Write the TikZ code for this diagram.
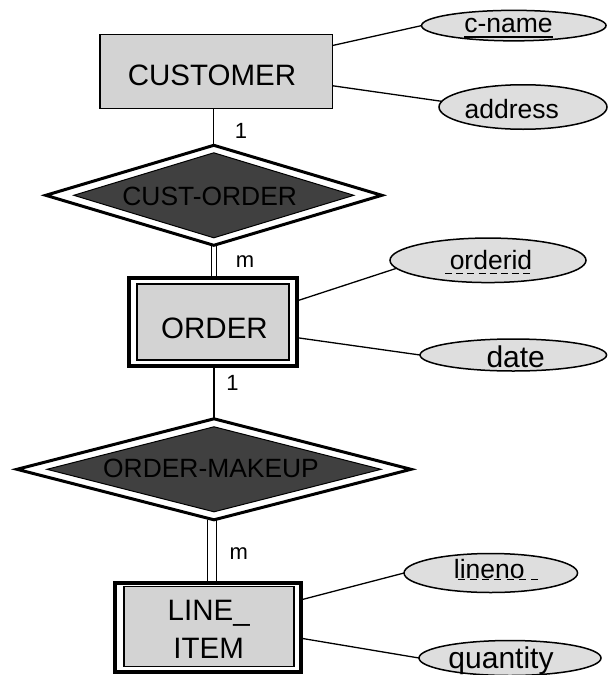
\documentclass[tikz,border=0pt]{standalone}
\usepackage{fontspec}
\setmainfont{Liberation Sans}
\usetikzlibrary{shapes.geometric,calc}
\pgfdeclarelayer{background}
\pgfsetlayers{background,main}

\definecolor{entfill}{HTML}{D3D3D3}
\definecolor{attfill}{HTML}{DEDEDE}
\definecolor{relfill}{HTML}{404040}

% text on a zero-size box: #1 horizontal shift, #2 baseline drop below the centre, #3 text
\newcommand\placetext[3]{\smash{\makebox[0pt]{\hspace*{\dimexpr(#1)*2\relax}\raisebox{-#2}{#3}}}}
% key attribute with a solid underline
\newsavebox\attrbox
\newcommand\keysolid[1]{\sbox\attrbox{#1}\rlap{\rule[-4.6pt]{\wd\attrbox}{1.4pt}}\usebox\attrbox}
% partial key with a dashed underline: #1 start offset, #2 length, #3 raise, #4 text
\newcommand\keydashed[4]{\rlap{\hspace*{#1}\hbox to #2{\xleaders\hbox to 11pt{\hss\rule[#3]{7pt}{1.1pt}\hss}\hfill}}#4}

\tikzset{
  every node/.style={inner sep=0pt, outer sep=0pt},
  entity/.style={rectangle, draw, line width=1.5pt, fill=entfill, font=\fontsize{29.5}{38}\selectfont},
  weakbox/.style={rectangle, draw, line width=4pt, fill=white},
  weakcore/.style={rectangle, draw, line width=1.5pt, fill=entfill, font=\fontsize{29.5}{38}\selectfont},
  relbox/.style={diamond, draw, line width=3pt, fill=white},
  relcore/.style={diamond, draw, line width=1pt, fill=relfill, font=\fontsize{26.4}{30}\selectfont},
  attr/.style={ellipse, draw, line width=1.5pt, fill=attfill, font=\fontsize{26.5}{30}\selectfont},
  bigattr/.style={attr, font=\fontsize{30}{34}\selectfont},
  link/.style={line width=1.3pt},
  idlink/.style={double, line width=1.2pt},
  card/.style={font=\fontsize{22}{24}\selectfont},
}

\begin{document}
\begin{tikzpicture}[x=1pt, y=-1pt]
  \useasboundingbox (0,0) rectangle (608,675);

  % entities and relationships
  \node[entity, minimum width=232.5pt, minimum height=74pt] (cust) at (216.3,71.7)
    {\placetext{-4.3pt}{13.9pt}{CUSTOMER}};

  \node[relbox, minimum width=336pt, minimum height=100pt] (custorder) at (213.8,195.3) {};
  \node[relcore, minimum width=280pt, minimum height=85pt] (custordercore) at (custorder.center)
    {\placetext{-4.1pt}{9.7pt}{CUST-ORDER}};

  \node[weakbox, minimum width=167.7pt, minimum height=87.7pt] (order) at (213.2,321.9) {};
  \node[weakcore, minimum width=152pt, minimum height=76pt] (ordercore) at (order.center)
    {\placetext{1.3pt}{16.4pt}{ORDER}};

  \node[relbox, minimum width=394pt, minimum height=101pt] (makeup) at (214,469.3) {};
  \node[relcore, minimum width=334pt, minimum height=85pt] (makeupcore) at (makeup.center)
    {\placetext{-3pt}{7.7pt}{ORDER-MAKEUP}};

  \node[weakbox, minimum width=186pt, minimum height=89pt] (item) at (207.7,627.5) {};
  \node[weakcore, minimum width=170pt, minimum height=80pt] (itemcore) at (209.2,626.6)
    {\placetext{-0.5pt}{31.7pt}{\begin{tabular}[b]{@{}c@{}}LINE\_\\ITEM\end{tabular}}};

  % attributes
  \node[attr, minimum width=184.5pt, minimum height=30.5pt] (cname) at (513.8,25.6)
    {\placetext{-5.3pt}{7.3pt}{\keysolid{c-name}}};
  \node[attr, minimum width=168pt, minimum height=44.5pt] (address) at (523,107)
    {\placetext{-11.2pt}{11.3pt}{address}};
  \node[attr, minimum width=196pt, minimum height=44.5pt] (orderid) at (488,260.3)
    {\placetext{3pt}{9.5pt}{\keydashed{-6.6pt}{89pt}{-4pt}{orderid}}};
  \node[bigattr, minimum width=186.5pt, minimum height=32pt] (date) at (513.3,355)
    {\placetext{2.4pt}{12.3pt}{date}};
  \node[attr, minimum width=173.5pt, minimum height=39pt] (lineno) at (490.8,573)
    {\placetext{-1.5pt}{5.3pt}{\keydashed{0.7pt}{86.7pt}{-1.5pt}{lineno}}};
  \node[bigattr, minimum width=182pt, minimum height=35pt] (quantity) at (510,658)
    {\placetext{-9pt}{10pt}{quantity}};

  % cardinalities
  \node[card] (card1) at (241,130.5) {1};
  \node[card] (card2) at (245,261.2) {m};
  \node[card] (card3) at (232.5,383) {1};
  \node[card] (card4) at (238.7,553.9) {m};

  \begin{pgfonlayer}{background}
    \fill[white] (0,0) rectangle (608,675);

    % relationship links
    \draw[link] (cust.south -| custorder.north) -- (custorder.north);
    \draw[idlink, double distance=3.8pt] (custorder.south) -- (custorder.south |- order.north);
    \draw[link] (makeup.north) -- (makeup.north |- order.south);
    \coordinate (makeupfoot) at ($(makeup.south)+(-2,0)$);
    \draw[idlink, double distance=7.8pt] (makeupfoot) -- (makeupfoot |- item.north);

    % attribute links
    \draw[link] ($(cust.north east)!0.146!(cust.south east)$) -- (cname.west);
    \draw[link] ($(cust.north east)!0.69!(cust.south east)$) -- (address.176);
    \draw[link] ($(order.north east)!0.26!(order.south east)$) -- (orderid.185);
    \draw[link] ($(order.north east)!0.68!(order.south east)$) -- (date.west);
    \draw[link] ($(item.north east)!0.19!(item.south east)$) -- (lineno.west);
    \draw[link] ($(item.north east)!0.62!(item.south east)$) -- (quantity.west);
  \end{pgfonlayer}
\end{tikzpicture}
\end{document}
